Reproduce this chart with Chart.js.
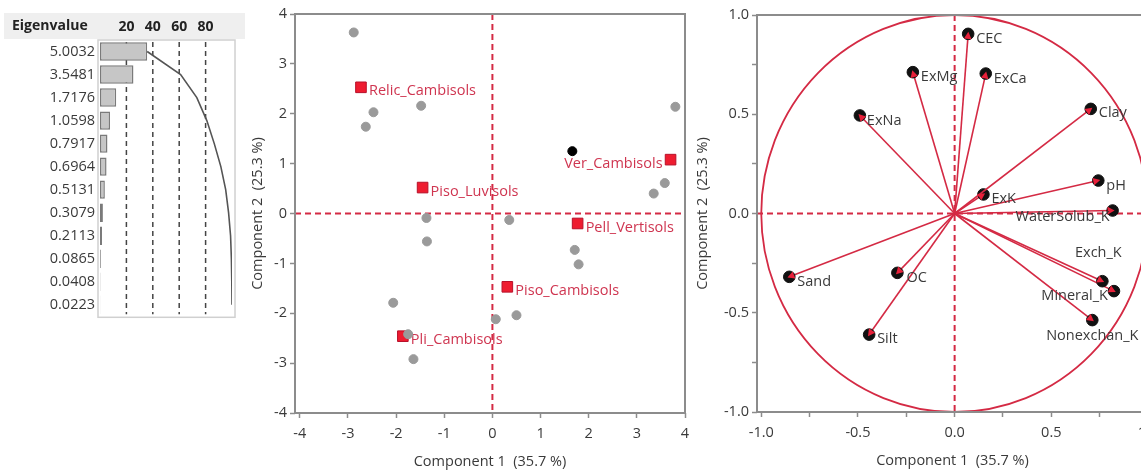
<!DOCTYPE html>
<html><head><meta charset="utf-8">
<script src="https://cdn.jsdelivr.net/npm/chart.js@4.4.1/dist/chart.umd.min.js"></script>
<style>
html,body{margin:0;padding:0;background:#fff;overflow:hidden;width:1141px;height:473px;position:relative;}
canvas{position:absolute;top:0;}
#c1{left:0;} #c2{left:240px;} #c3{left:690px;}
</style></head><body>
<canvas id="c1" width="245" height="330"></canvas>
<canvas id="c2" width="460" height="473"></canvas>
<canvas id="c3" width="480" height="473"></canvas>
<script>
// ---------- data ----------
const eigenvalues = ["5.0032","3.5481","1.7176","1.0598","0.7917","0.6964","0.5131","0.3079","0.2113","0.0865","0.0408","0.0223"];
const percentVar = [35.74, 25.34, 12.27, 7.57, 5.66, 4.97, 3.67, 2.20, 1.51, 0.62, 0.29, 0.16];
const cumulativePct = [35.74, 61.08, 73.35, 80.92, 86.57, 91.55, 95.21, 97.41, 98.92, 99.54, 99.84, 100];
const pctTicks = [20, 40, 60, 80];

const soilGroups = ["Relic_Cambisols","Piso_Luvisols","Ver_Cambisols","Pell_Vertisols","Piso_Cambisols","Pli_Cambisols"];
const groupPC1 = [-2.73, -1.45, 3.70, 1.77, 0.31, -1.86];
const groupPC2 = [2.53, 0.52, 1.08, -0.20, -1.47, -2.46];
const samplePC1 = [-2.88, -2.47, -2.63, -1.48, 3.80, 3.58, 3.35, -1.37, 0.35, -1.36, 1.71, 1.79, -2.06, 0.07, 0.50, -1.75, -1.64];
const samplePC2 = [3.63, 2.03, 1.74, 2.16, 2.14, 0.61, 0.40, -0.09, -0.13, -0.56, -0.73, -1.02, -1.79, -2.12, -2.04, -2.42, -2.92];
const highlightPC1 = [1.66];
const highlightPC2 = [1.25];
const scoreTicks = [-4, -3, -2, -1, 0, 1, 2, 3, 4];

const variables = ["CEC","ExMg","ExCa","ExNa","Clay","pH","ExK","WaterSolub_K","Sand","OC","Silt","Exch_K","Mineral_K","Nonexchan_K"];
const loadPC1 = [0.070, -0.216, 0.161, -0.490, 0.704, 0.743, 0.149, 0.817, -0.855, -0.296, -0.442, 0.764, 0.824, 0.712];
const loadPC2 = [0.905, 0.712, 0.705, 0.494, 0.527, 0.166, 0.096, 0.015, -0.319, -0.299, -0.610, -0.341, -0.391, -0.537];
const loadTicks = [-1, -0.75, -0.5, -0.25, 0, 0.25, 0.5, 0.75, 1];

const xTitle = "Component 1  (35.7 %)";
const yTitle = "Component 2  (25.3 %)";

// ---------- styles ----------
const FONT = "'Open Sans', 'Noto Sans', sans-serif";
const FS = 14.5;
const TXT = '#3a3a3a';
const RED = '#d42a44';
const groupLabelPlace = { Ver_Cambisols: [-8, 4, 'right'] };
const defaultGroupPlace = [8, 4, 'left'];
const varLabelPlace = {
  CEC:[8,5,'left'], ExMg:[8,5,'left'], ExCa:[8,5,'left'], ExNa:[7,5,'left'], Clay:[8,4,'left'],
  pH:[8,5,'left'], ExK:[8,4,'left'], WaterSolub_K:[-3,6,'right'], Sand:[8,5,'left'], OC:[9,5,'left'],
  Silt:[8,4,'left'], Exch_K:[-4,-28,'center'], Mineral_K:[-6,5,'right'], Nonexchan_K:[0,16,'center']
};

Chart.defaults.font.family = FONT;
Chart.defaults.font.size = FS;
Chart.defaults.color = TXT;

function setTicks(vals){ return s => { s.ticks = vals.map(v => ({value: v})); }; }
function dashLine(ctx, x1, y1, x2, y2, color, w, dash){
  ctx.save(); ctx.strokeStyle = color; ctx.lineWidth = w; ctx.setLineDash(dash);
  ctx.beginPath(); ctx.moveTo(x1, y1); ctx.lineTo(x2, y2); ctx.stroke(); ctx.restore();
}
function frame(chart){
  const {ctx, chartArea:a} = chart;
  ctx.save(); ctx.strokeStyle = '#8c8c8c'; ctx.lineWidth = 2;
  ctx.strokeRect(a.left, a.top, a.right - a.left, a.bottom - a.top); ctx.restore();
}

// ---------- left: eigenvalue bars ----------
new Chart(document.getElementById('c1'), {
  type: 'bar',
  data: {
    labels: eigenvalues,
    datasets: [
      { type:'line', indexAxis:'y', data: cumulativePct, borderColor:'#555', borderWidth:1.6, pointRadius:0, fill:false, order:0 },
      { data: percentVar, backgroundColor:'#c6c6c6', borderColor:'#7a7a7a', borderWidth:1.5, borderSkipped:false,
        barPercentage:0.8, categoryPercentage:1, order:1 }
    ]
  },
  options: {
    indexAxis: 'y', responsive:false, animation:false,
    layout: { padding: { left:0, right:13, top:0, bottom:6 } },
    plugins: { legend:{display:false}, tooltip:{enabled:false} },
    scales: {
      x: { type:'linear', position:'top', min:0, max:100, afterBuildTicks: setTicks(pctTicks),
           afterFit: s => { s.height = 40; },
           grid:{display:false, drawTicks:false}, border:{display:false},
           ticks:{ padding:5, color:'#222', font:{weight:'bold', size:14}, maxRotation:0, autoSkip:false } },
      y: { type:'category', afterFit: s => { s.width = 100; },
           grid:{display:false, drawTicks:false}, border:{display:false},
           ticks:{ padding:5, color:TXT, font:{size:FS}, autoSkip:false } }
    }
  },
  plugins: [{
    id:'leftDecor',
    beforeDraw(chart){
      const {ctx, chartArea:a} = chart;
      ctx.save();
      ctx.fillStyle = '#efefef'; ctx.fillRect(4, 13, chart.width - 4, 26);
      ctx.fillStyle = '#222'; ctx.font = 'bold 14px ' + FONT; ctx.textBaseline = 'middle'; ctx.textAlign = 'left';
      ctx.fillText('Eigenvalue', 12, 26);
      ctx.strokeStyle = '#d0d0d0'; ctx.lineWidth = 1.5;
      ctx.strokeRect(a.left - 2, a.top, a.right - a.left + 5, a.bottom - a.top + 1);
      ctx.restore();
    },
    beforeDatasetsDraw(chart){
      const {ctx, chartArea:a, scales:{x}} = chart;
      pctTicks.forEach(v => { const px = x.getPixelForValue(v); dashLine(ctx, px, a.top + 2, px, a.bottom - 2, '#444', 1.5, [5,4]); });
    }
  }]
});

// ---------- middle: score plot ----------
new Chart(document.getElementById('c2'), {
  type: 'scatter',
  data: {
    datasets: [
      { data: samplePC1.map((v,i) => ({x:v, y:samplePC2[i]})), pointRadius:4.5, pointBackgroundColor:'#9a9a9a', pointBorderColor:'#9a9a9a' },
      { data: highlightPC1.map((v,i) => ({x:v, y:highlightPC2[i]})), pointRadius:4.5, pointBackgroundColor:'#000', pointBorderColor:'#000' },
      { data: groupPC1.map((v,i) => ({x:v, y:groupPC2[i]})), pointStyle:'rect', pointRadius:7.5, pointBackgroundColor:'#ee1c30', pointBorderColor:'#b8102a', pointBorderWidth:1 }
    ]
  },
  options: {
    responsive:false, animation:false,
    layout: { padding: { left:0, right:15, top:14, bottom:0 } },
    plugins: { legend:{display:false}, tooltip:{enabled:false} },
    scales: {
      x: { type:'linear', min:-4.1, max:4, afterBuildTicks: setTicks(scoreTicks), afterFit: s => { s.height = 60; },
           grid:{drawOnChartArea:false, drawTicks:true, tickLength:5, tickColor:'#8c8c8c', tickWidth:1.5}, border:{display:false},
           ticks:{ padding:7, color:TXT, maxRotation:0, autoSkip:false },
           title:{ display:true, text:xTitle, color:TXT, font:{size:FS}, padding:{top:0,bottom:2} } },
      y: { type:'linear', min:-4, max:4, afterBuildTicks: setTicks(scoreTicks), afterFit: s => { s.width = 55; },
           grid:{drawOnChartArea:false, drawTicks:true, tickLength:5, tickColor:'#8c8c8c', tickWidth:1.5}, border:{display:false},
           ticks:{ padding:3, color:TXT, autoSkip:false },
           title:{ display:true, text:yTitle, color:TXT, font:{size:FS}, padding:{top:9,bottom:0} } }
    }
  },
  plugins: [{
    id:'midDecor',
    beforeDatasetsDraw(chart){
      const {ctx, chartArea:a, scales:{x, y}} = chart;
      const meta = chart.getDatasetMeta(2);
      ctx.save(); ctx.font = FS + 'px ' + FONT; ctx.fillStyle = '#cf3550'; ctx.textBaseline = 'middle';
      soilGroups.forEach((name, i) => {
        const p = meta.data[i]; const pl = groupLabelPlace[name] || defaultGroupPlace;
        ctx.textAlign = pl[2]; ctx.fillText(name, p.x + pl[0], p.y + pl[1]);
      });
      ctx.restore();
      const x0 = x.getPixelForValue(0), y0 = y.getPixelForValue(0);
      dashLine(ctx, x0, a.top, x0, a.bottom, RED, 2, [6,4]);
      dashLine(ctx, a.left, y0, a.right, y0, RED, 2, [6,4]);
    },
    afterDraw(chart){ frame(chart); }
  }]
});

// ---------- right: loading plot ----------
const vectorSets = variables.map((name, i) => ({
  label: name,
  data: [{x:0, y:0}, {x:loadPC1[i], y:loadPC2[i]}],
  showLine:true, borderColor:RED, borderWidth:1.6,
  pointRadius:[0, 5.8], pointBackgroundColor:'#111', pointBorderColor:'#111', pointBorderWidth:1
}));
new Chart(document.getElementById('c3'), {
  type: 'scatter',
  data: { datasets: vectorSets },
  options: {
    responsive:false, animation:false,
    layout: { padding: { left:0, right:22, top:15, bottom:0 } },
    plugins: { legend:{display:false}, tooltip:{enabled:false} },
    scales: {
      x: { type:'linear', min:-1.022, max:1, afterBuildTicks: setTicks(loadTicks), afterFit: s => { s.height = 61; },
           grid:{drawOnChartArea:false, drawTicks:true, tickLength:5, tickColor:'#8c8c8c', tickWidth:1.5}, border:{display:false},
           ticks:{ padding:7, color:TXT, maxRotation:0, autoSkip:false, callback: v => (Math.abs(v*2 - Math.round(v*2)) < 1e-9 ? v.toFixed(1) : '') },
           title:{ display:true, text:xTitle, color:TXT, font:{size:FS}, padding:{top:0,bottom:3} } },
      y: { type:'linear', min:-1, max:1, afterBuildTicks: setTicks(loadTicks), afterFit: s => { s.width = 67; },
           grid:{drawOnChartArea:false, drawTicks:true, tickLength:5, tickColor:'#8c8c8c', tickWidth:1.5}, border:{display:false},
           ticks:{ padding:3, color:TXT, autoSkip:false, callback: v => (Math.abs(v*2 - Math.round(v*2)) < 1e-9 ? v.toFixed(1) : '') },
           title:{ display:true, text:yTitle, color:TXT, font:{size:FS}, padding:{top:4,bottom:0} } }
    }
  },
  plugins: [{
    id:'rightDecor',
    beforeDatasetsDraw(chart){
      const {ctx, chartArea:a, scales:{x, y}} = chart;
      const x0 = x.getPixelForValue(0), y0 = y.getPixelForValue(0);
      const rx = x.getPixelForValue(1) - x0, ry = y0 - y.getPixelForValue(1);
      ctx.save(); ctx.strokeStyle = RED; ctx.lineWidth = 1.8;
      ctx.beginPath(); ctx.ellipse(x0, y0, rx, ry, 0, 0, Math.PI * 2); ctx.stroke(); ctx.restore();
      dashLine(ctx, x0, a.top, x0, a.bottom, RED, 2, [6,4]);
      dashLine(ctx, a.left, y0, a.right, y0, RED, 2, [6,4]);
    },
    afterDatasetsDraw(chart){
      const {ctx} = chart;
      ctx.save();
      variables.forEach((name, i) => {
        const m = chart.getDatasetMeta(i); const p0 = m.data[0], p1 = m.data[1];
        const ang = Math.atan2(p1.y - p0.y, p1.x - p0.x);
        const c = Math.cos(ang), s = Math.sin(ang);
        const tx = p1.x + c * 2, ty = p1.y + s * 2;
        const bx = p1.x - c * 5, by = p1.y - s * 5;
        ctx.fillStyle = '#e8203a'; ctx.beginPath();
        ctx.moveTo(tx, ty); ctx.lineTo(bx - s * 3.8, by + c * 3.8); ctx.lineTo(bx + s * 3.8, by - c * 3.8); ctx.closePath(); ctx.fill();
      });
      ctx.font = FS + 'px ' + FONT; ctx.fillStyle = TXT; ctx.textBaseline = 'middle';
      variables.forEach((name, i) => {
        const p = chart.getDatasetMeta(i).data[1]; const pl = varLabelPlace[name] || [8,4,'left'];
        ctx.textAlign = pl[2]; ctx.fillText(name, p.x + pl[0], p.y + pl[1]);
      });
      ctx.restore();
    },
    afterDraw(chart){ frame(chart); }
  }]
});
</script>
</body></html>
